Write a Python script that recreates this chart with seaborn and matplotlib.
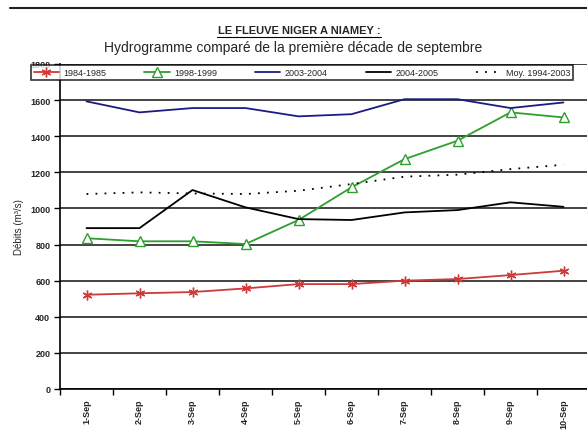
import matplotlib

matplotlib.use("Agg")

import seaborn as sns
from matplotlib import pyplot as plt
from matplotlib.lines import Line2D
from matplotlib.ticker import FixedLocator

# Données (débits en m3/s, du 1er au 10 septembre)
days = ["1-Sep", "2-Sep", "3-Sep", "4-Sep", "5-Sep",
        "6-Sep", "7-Sep", "8-Sep", "9-Sep", "10-Sep"]
q_1984_1985 = [522, 530, 537, 557, 581, 581, 600, 609, 631, 655]
q_1998_1999 = [835, 818, 818, 803, 936, 1117, 1273, 1375, 1532, 1504]
q_2003_2004 = [1593, 1532, 1556, 1556, 1510, 1522, 1605, 1605, 1556, 1587]
q_2004_2005 = [891, 891, 1102, 1006, 941, 936, 978, 991, 1034, 1009]
q_moy_1994_2003 = [1080, 1089, 1083, 1080, 1098, 1135, 1176, 1187, 1218, 1242]
y_ticks = [0, 200, 400, 600, 800, 1000, 1200, 1400, 1600, 1800]


def main() -> None:
    sns.set_style("white")
    plt.rcParams["font.family"] = ["Liberation Sans", "DejaVu Sans"]

    fig = plt.figure(figsize=(5.87, 4.39), dpi=100)
    ax = fig.add_axes([60 / 587, 1 - 390 / 439, 530 / 587, 325 / 439])

    x = list(range(len(days)))
    red, green, blue = "#cc3a3a", "#2e9e2e", "#1c1c80"
    series = [
        (q_1984_1985, "1984-1985", red,
         dict(marker=(6, 2, 0), markersize=7, markeredgecolor=red,
              markeredgewidth=1.0)),
        (q_1998_1999, "1998-1999", green,
         dict(marker="^", markersize=7, markerfacecolor="white",
              markeredgecolor=green, markeredgewidth=1.0)),
        (q_2003_2004, "2003-2004", blue, dict()),
        (q_2004_2005, "2004-2005", "#000000", dict()),
        (q_moy_1994_2003, "Moy. 1994-2003", "#000000",
         dict(linestyle=(0, (1, 4)))),
    ]
    for values, label, color, style in series:
        sns.lineplot(x=x, y=values, ax=ax, color=color, label=label,
                     linewidth=1.3, **style)

    ax.set_xlim(-0.5, len(days) - 0.5)
    ax.set_ylim(0, 1800)
    ax.set_xticks(x)
    ax.set_xticklabels(days, rotation=90, fontsize=6.5, fontweight="bold")
    ax.xaxis.set_minor_locator(FixedLocator([i - 0.5 for i in range(len(days) + 1)]))
    ax.tick_params(axis="x", which="major", length=0, pad=7)
    ax.tick_params(axis="x", which="minor", length=4, width=1, color="black",
                   direction="out", bottom=True)
    ax.set_yticks(y_ticks)
    ax.set_yticklabels([str(v) for v in y_ticks], fontsize=6.5, fontweight="bold")
    ax.tick_params(axis="y", length=4, width=1, color="black", direction="out",
                   left=True, pad=3)

    ax.grid(axis="y", color="#111111", linewidth=1.1)
    ax.grid(axis="x", visible=False)
    for side in ("top", "right"):
        ax.spines[side].set_visible(False)
    for side in ("left", "bottom"):
        ax.spines[side].set_color("black")
        ax.spines[side].set_linewidth(1.2)

    ax.set_xlabel("")
    ax.set_ylabel("Débits (m³/s)", fontsize=7, labelpad=4)

    legend = ax.legend(
        ncol=5, loc="lower left", mode="expand",
        bbox_to_anchor=(26 / 587, 1 - 86 / 439, 552 / 587, 22 / 439),
        bbox_transform=fig.transFigure, frameon=True, fancybox=False,
        edgecolor="black", fontsize=6.5, handlelength=2.8, borderpad=0.35,
        handletextpad=0.5, columnspacing=0.6,
    )
    legend.get_frame().set_linewidth(1.2)
    legend.set_zorder(10)

    fig.text(0.51, 1 - 31 / 439, "LE FLEUVE NIGER A NIAMEY :", ha="center",
             va="center", fontsize=8, fontweight="bold")
    fig.add_artist(Line2D([217 / 587, 381 / 587], [1 - 38 / 439, 1 - 38 / 439],
                          color="black", linewidth=0.8))
    fig.text(0.5, 1 - 48 / 439,
             "Hydrogramme comparé de la première décade de septembre",
             ha="center", va="center", fontsize=10)
    fig.add_artist(Line2D([10 / 587, 1.0], [1 - 9 / 439, 1 - 9 / 439],
                          color="#222222", linewidth=1.5))

    fig.savefig("out.png", dpi=100)


if __name__ == "__main__":
    main()
